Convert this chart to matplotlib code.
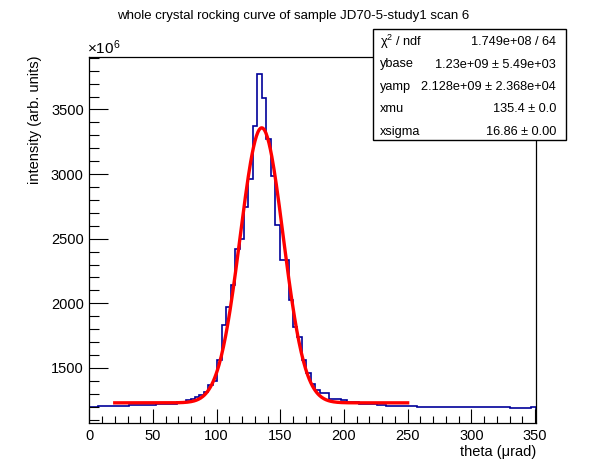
import numpy as np
import matplotlib
matplotlib.use('Agg')
from matplotlib import pyplot as plt
from matplotlib.patches import Rectangle

plt.rcParams['font.family'] = ['Liberation Sans', 'DejaVu Sans']
plt.rcParams['mathtext.fontset'] = 'custom'
plt.rcParams['mathtext.rm'] = 'Liberation Sans'
plt.rcParams['mathtext.default'] = 'regular'

# histogram (theta in urad, intensity in units of 1e6)
edges = [0, 7, 31.5, 52, 69, 76, 79.5, 83, 86.5, 90, 93.5, 97, 100.5, 104, 107.5, 111,
         114.5, 118, 121.5, 125, 128.5, 132, 135.5, 139, 142.5, 146, 149.5, 153, 156.5,
         160, 163.5, 167, 170.5, 174, 177.5, 181, 184.5, 188, 191.5, 198, 202, 212, 226,
         233, 257, 330, 347, 351]
counts = [1199, 1206, 1214, 1222, 1240, 1253, 1262, 1275, 1292, 1317, 1371, 1400, 1562,
          1835, 1971, 2138, 2422, 2499, 2747, 2963, 3373, 3772, 3587, 3270, 2984, 2607,
          2337, 2337, 2022, 1817, 1740, 1559, 1461, 1379, 1332, 1304, 1304, 1260, 1260,
          1250, 1234, 1224, 1216, 1208, 1199, 1191, 1201]

# fit result
ybase = 1.23e9
yamp = 2.128e9
xmu = 135.4
xsigma = 16.86
fit_range = (20, 250)

stat_names = ['χ$^{2}$ / ndf', 'ybase', 'yamp', 'xmu', 'xsigma']
stat_values = ['1.749e+08 / 64', '1.23e+09 ± 5.49e+03', '2.128e+09 ± 2.368e+04',
               '135.4 ± 0.0', '16.86 ± 0.00']

W, H = 596, 472
fig = plt.figure(figsize=(W / 100, H / 100), dpi=100)
ax = fig.add_axes([89.3 / W, 1 - 423 / H, (536 - 89.3) / W, (423 - 56.5) / H])

ax.stairs(counts, edges, color='#000099', lw=1.2)

xf = np.linspace(fit_range[0], fit_range[1], 400)
yf = (ybase + yamp * np.exp(-0.5 * ((xf - xmu) / xsigma) ** 2)) / 1e6
ax.plot(xf, yf, color='red', lw=2.4)

ax.set_xlim(0, 350.8)
ax.set_ylim(1074, 3910)
ax.set_xticks(np.arange(0, 351, 50))
ax.set_xticks(np.arange(0, 351, 10), minor=True)
ax.set_yticks(np.arange(1500, 3501, 500))
ax.set_yticks(np.arange(1100, 3901, 100), minor=True)
ax.tick_params(axis='both', which='both', direction='in', labelsize=10.5,
               top=False, right=False, width=0.8)
ax.tick_params(axis='x', which='major', length=10, pad=4)
ax.tick_params(axis='x', which='minor', length=5)
ax.tick_params(axis='y', which='major', length=14, pad=4)
ax.tick_params(axis='y', which='minor', length=7)
for s in ax.spines.values():
    s.set_linewidth(0.9)

fig.text(536 / W, 1 - 452 / H, 'theta (μrad)', ha='right', va='center', fontsize=10.5)
fig.text(35 / W, 1 - 55 / H, 'intensity (arb. units)', ha='center', va='top',
         rotation=90, fontsize=10.5)
fig.text(87 / W, 1 - 54 / H, r'$\times10^{6}$', ha='left', va='baseline', fontsize=11)
fig.text(293 / W, 1 - 16 / H, 'whole crystal rocking curve of sample JD70-5-study1 scan 6',
         ha='center', va='center', fontsize=9.5)

# stats box
bx0, bx1, by0, by1 = 373, 566, 29, 139.5
fig.patches.append(Rectangle((bx0 / W, 1 - by1 / H), (bx1 - bx0) / W, (by1 - by0) / H,
                             transform=fig.transFigure, facecolor='white',
                             edgecolor='black', lw=1.0, zorder=5))
for i, (n, v) in enumerate(zip(stat_names, stat_values)):
    yy = 1 - (42 + 22.5 * i) / H
    fig.text(380 / W, yy, n, ha='left', va='center', fontsize=9.2, zorder=6)
    fig.text(556 / W, yy, v, ha='right', va='center', fontsize=9.2, zorder=6)

fig.savefig('out.png', dpi=100, facecolor='white')
